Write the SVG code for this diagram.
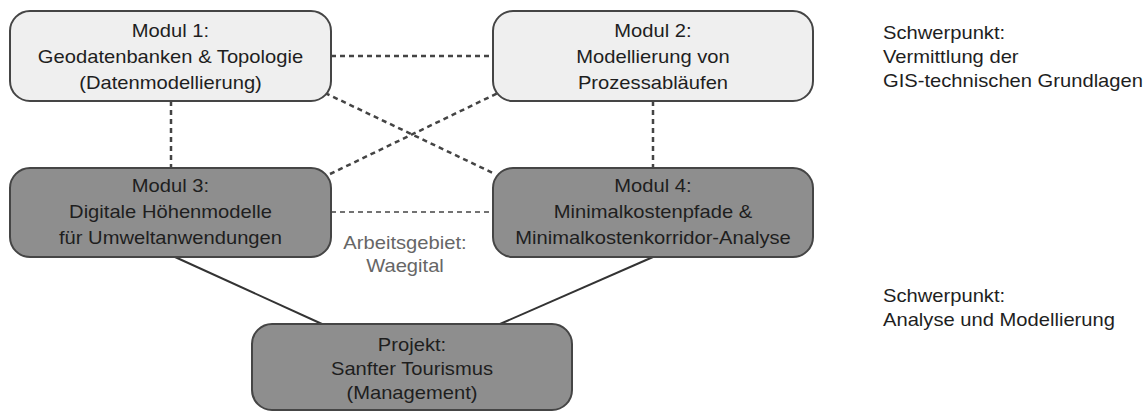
<svg xmlns="http://www.w3.org/2000/svg" width="1148" height="412" viewBox="0 0 1148 412">
<style>
.box{stroke:#454545;stroke-width:2}
.light{fill:#efefef}
.dark{fill:#8e8e8e}
.t{font-family:"Liberation Sans",Arial,sans-serif;font-size:18px;fill:#1e1e1e;text-anchor:middle}
.side{font-family:"Liberation Sans",Arial,sans-serif;font-size:18px;fill:#1e1e1e}
.gray{font-family:"Liberation Sans",Arial,sans-serif;font-size:18px;fill:#666;text-anchor:middle}
.dash{stroke:#444;stroke-width:2.5;stroke-dasharray:5 4;fill:none}
.dashthin{stroke:#444;stroke-width:1.5;stroke-dasharray:5 4;fill:none}
.solid{stroke:#333;stroke-width:2;fill:none}
</style>
<rect width="1148" height="412" fill="#fff"/>
<g id="connectors">
<line class="dash" x1="331" y1="56" x2="493" y2="56"/>
<line class="dash" x1="171" y1="101" x2="171" y2="168"/>
<line class="dash" x1="653" y1="101" x2="653" y2="168"/>
<line class="dash" x1="325" y1="93" x2="495" y2="174"/>
<line class="dash" x1="330" y1="174" x2="498" y2="93"/>
<line class="dashthin" x1="331" y1="212" x2="493" y2="212"/>
<line class="solid" x1="175" y1="257" x2="322" y2="324"/>
<line class="solid" x1="653" y1="257" x2="500" y2="324"/>
</g>
<g id="modul1">
<rect class="box light" x="10" y="11" width="321" height="90" rx="20"/>
<g transform="matrix(1.12 0 0 1 -20.46 0)">
<text class="t" x="170.5" y="37">Modul 1:</text>
<text class="t" x="170.5" y="63">Geodatenbanken &amp; Topologie</text>
<text class="t" x="170.5" y="89">(Datenmodellierung)</text>
</g>
</g>
<g id="modul2">
<rect class="box light" x="493" y="11" width="320" height="90" rx="20"/>
<g transform="matrix(1.12 0 0 1 -78.36 0)">
<text class="t" x="653" y="37">Modul 2:</text>
<text class="t" x="653" y="63">Modellierung von</text>
<text class="t" x="653" y="89">Prozessabläufen</text>
</g>
</g>
<g id="modul3">
<rect class="box dark" x="10" y="168" width="321" height="89" rx="20"/>
<g transform="matrix(1.12 0 0 1 -20.46 0)">
<text class="t" x="170.5" y="192">Modul 3:</text>
<text class="t" x="170.5" y="218">Digitale Höhenmodelle</text>
<text class="t" x="170.5" y="244">für Umweltanwendungen</text>
</g>
</g>
<g id="modul4">
<rect class="box dark" x="493" y="168" width="320" height="89" rx="20"/>
<g transform="matrix(1.12 0 0 1 -78.36 0)">
<text class="t" x="653" y="192">Modul 4:</text>
<text class="t" x="653" y="218">Minimalkostenpfade &amp;</text>
<text class="t" x="653" y="244">Minimalkostenkorridor-Analyse</text>
</g>
</g>
<g id="projekt">
<rect class="box dark" x="252" y="324" width="320" height="86" rx="20"/>
<g transform="matrix(1.12 0 0 1 -49.44 0)">
<text class="t" x="412" y="351">Projekt:</text>
<text class="t" x="412" y="375">Sanfter Tourismus</text>
<text class="t" x="412" y="399">(Management)</text>
</g>
</g>
<g id="arbeitsgebiet" transform="matrix(1.12 0 0 1 -48.6 0)">
<text class="gray" x="405" y="249">Arbeitsgebiet:</text>
<text class="gray" x="405" y="272">Waegital</text>
</g>
<g id="schwerpunkt1" transform="matrix(1.12 0 0 1 -105.96 0)">
<text class="side" x="883" y="39">Schwerpunkt:</text>
<text class="side" x="883" y="63">Vermittlung der</text>
<text class="side" x="883" y="87">GIS-technischen Grundlagen</text>
</g>
<g id="schwerpunkt2" transform="matrix(1.12 0 0 1 -105.96 0)">
<text class="side" x="883" y="302">Schwerpunkt:</text>
<text class="side" x="883" y="326">Analyse und Modellierung</text>
</g>
</svg>
